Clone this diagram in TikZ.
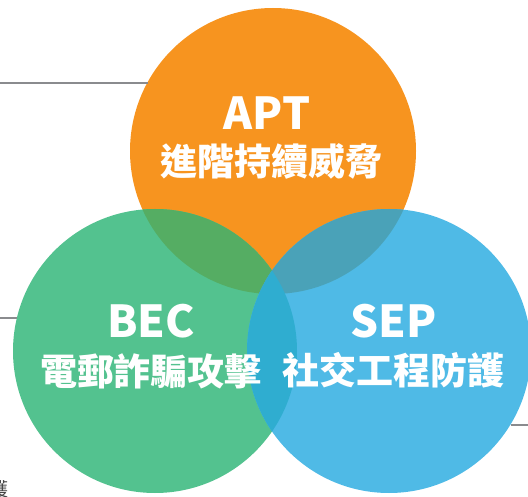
\documentclass[tikz,border=0pt]{standalone}
\usepackage{fontspec}
\newfontfamily\cjk{Noto Sans CJK TC}
\definecolor{cOrange}{HTML}{F7941F}
\definecolor{cGreen}{HTML}{53C28F}
\definecolor{cBlue}{HTML}{4FBAE6}
\definecolor{cOG}{HTML}{55AD63}
\definecolor{cOB}{HTML}{4AA2B8}
\definecolor{cBG}{HTML}{2FADD0}
\definecolor{cLine}{HTML}{8A8B8E}
\definecolor{cText}{HTML}{444444}
\tikzset{
  disc/.style={circle, minimum size=284pt, inner sep=0pt, outer sep=0pt, draw=none},
  leadline/.style={draw=cLine, line width=2pt},
  titletext/.style={text=white, font=\cjk\bfseries\fontsize{44}{48}\selectfont, inner sep=0pt},
  subtext/.style={text=white, font=\cjk\bfseries\fontsize{37}{42}\selectfont, inner sep=0pt},
}
\begin{document}
\begin{tikzpicture}[x=1pt,y=-1pt]
\useasboundingbox (0,0) rectangle (528,497);
% circles
\node[disc, fill=cOrange, minimum size=286pt] (apt) at (273,151) {};
\node[disc, fill=cGreen] (bec) at (155,351) {};
\begin{scope}
  \clip (273,151) circle (143);
  \fill[cOG] (155,351) circle (142);
\end{scope}
\node[disc, fill=cBlue] (sep) at (389,351) {};
\begin{scope}
  \clip (389,351) circle (142);
  \fill[cOB] (273,151) circle (143);
  \fill[cBG] (155,351) circle (142);
\end{scope}
% lead lines
\coordinate (l1) at (0,83.5);
\coordinate (l2) at (0,318.3);
\coordinate (l3) at (528,424.5);
\draw[leadline] (l1) -- (l1 -| apt.151.8);
\draw[leadline] (l2) -- (l2 -| bec.166.6);
\draw[leadline] (l3) -- (l3 -| sep.-31.2);
% texts
\node[titletext] (aptT) at (267,113) {APT};
\node[subtext] (aptS) at (271.5,161) {進階持續威脅};
\node[titletext] (becT) at (151,321.5) {BEC};
\node[subtext] (becS) at (151,371) {電郵詐騙攻擊};
\node[titletext] (sepT) at (393.5,321.5) {SEP};
\node[subtext] (sepS) at (393,370.5) {社交工程防護};
\node[text=cText, font=\cjk\fontsize{19}{22}\selectfont, inner sep=0pt, anchor=east] (cut) at (8.5,489) {護};
\end{tikzpicture}
\end{document}
